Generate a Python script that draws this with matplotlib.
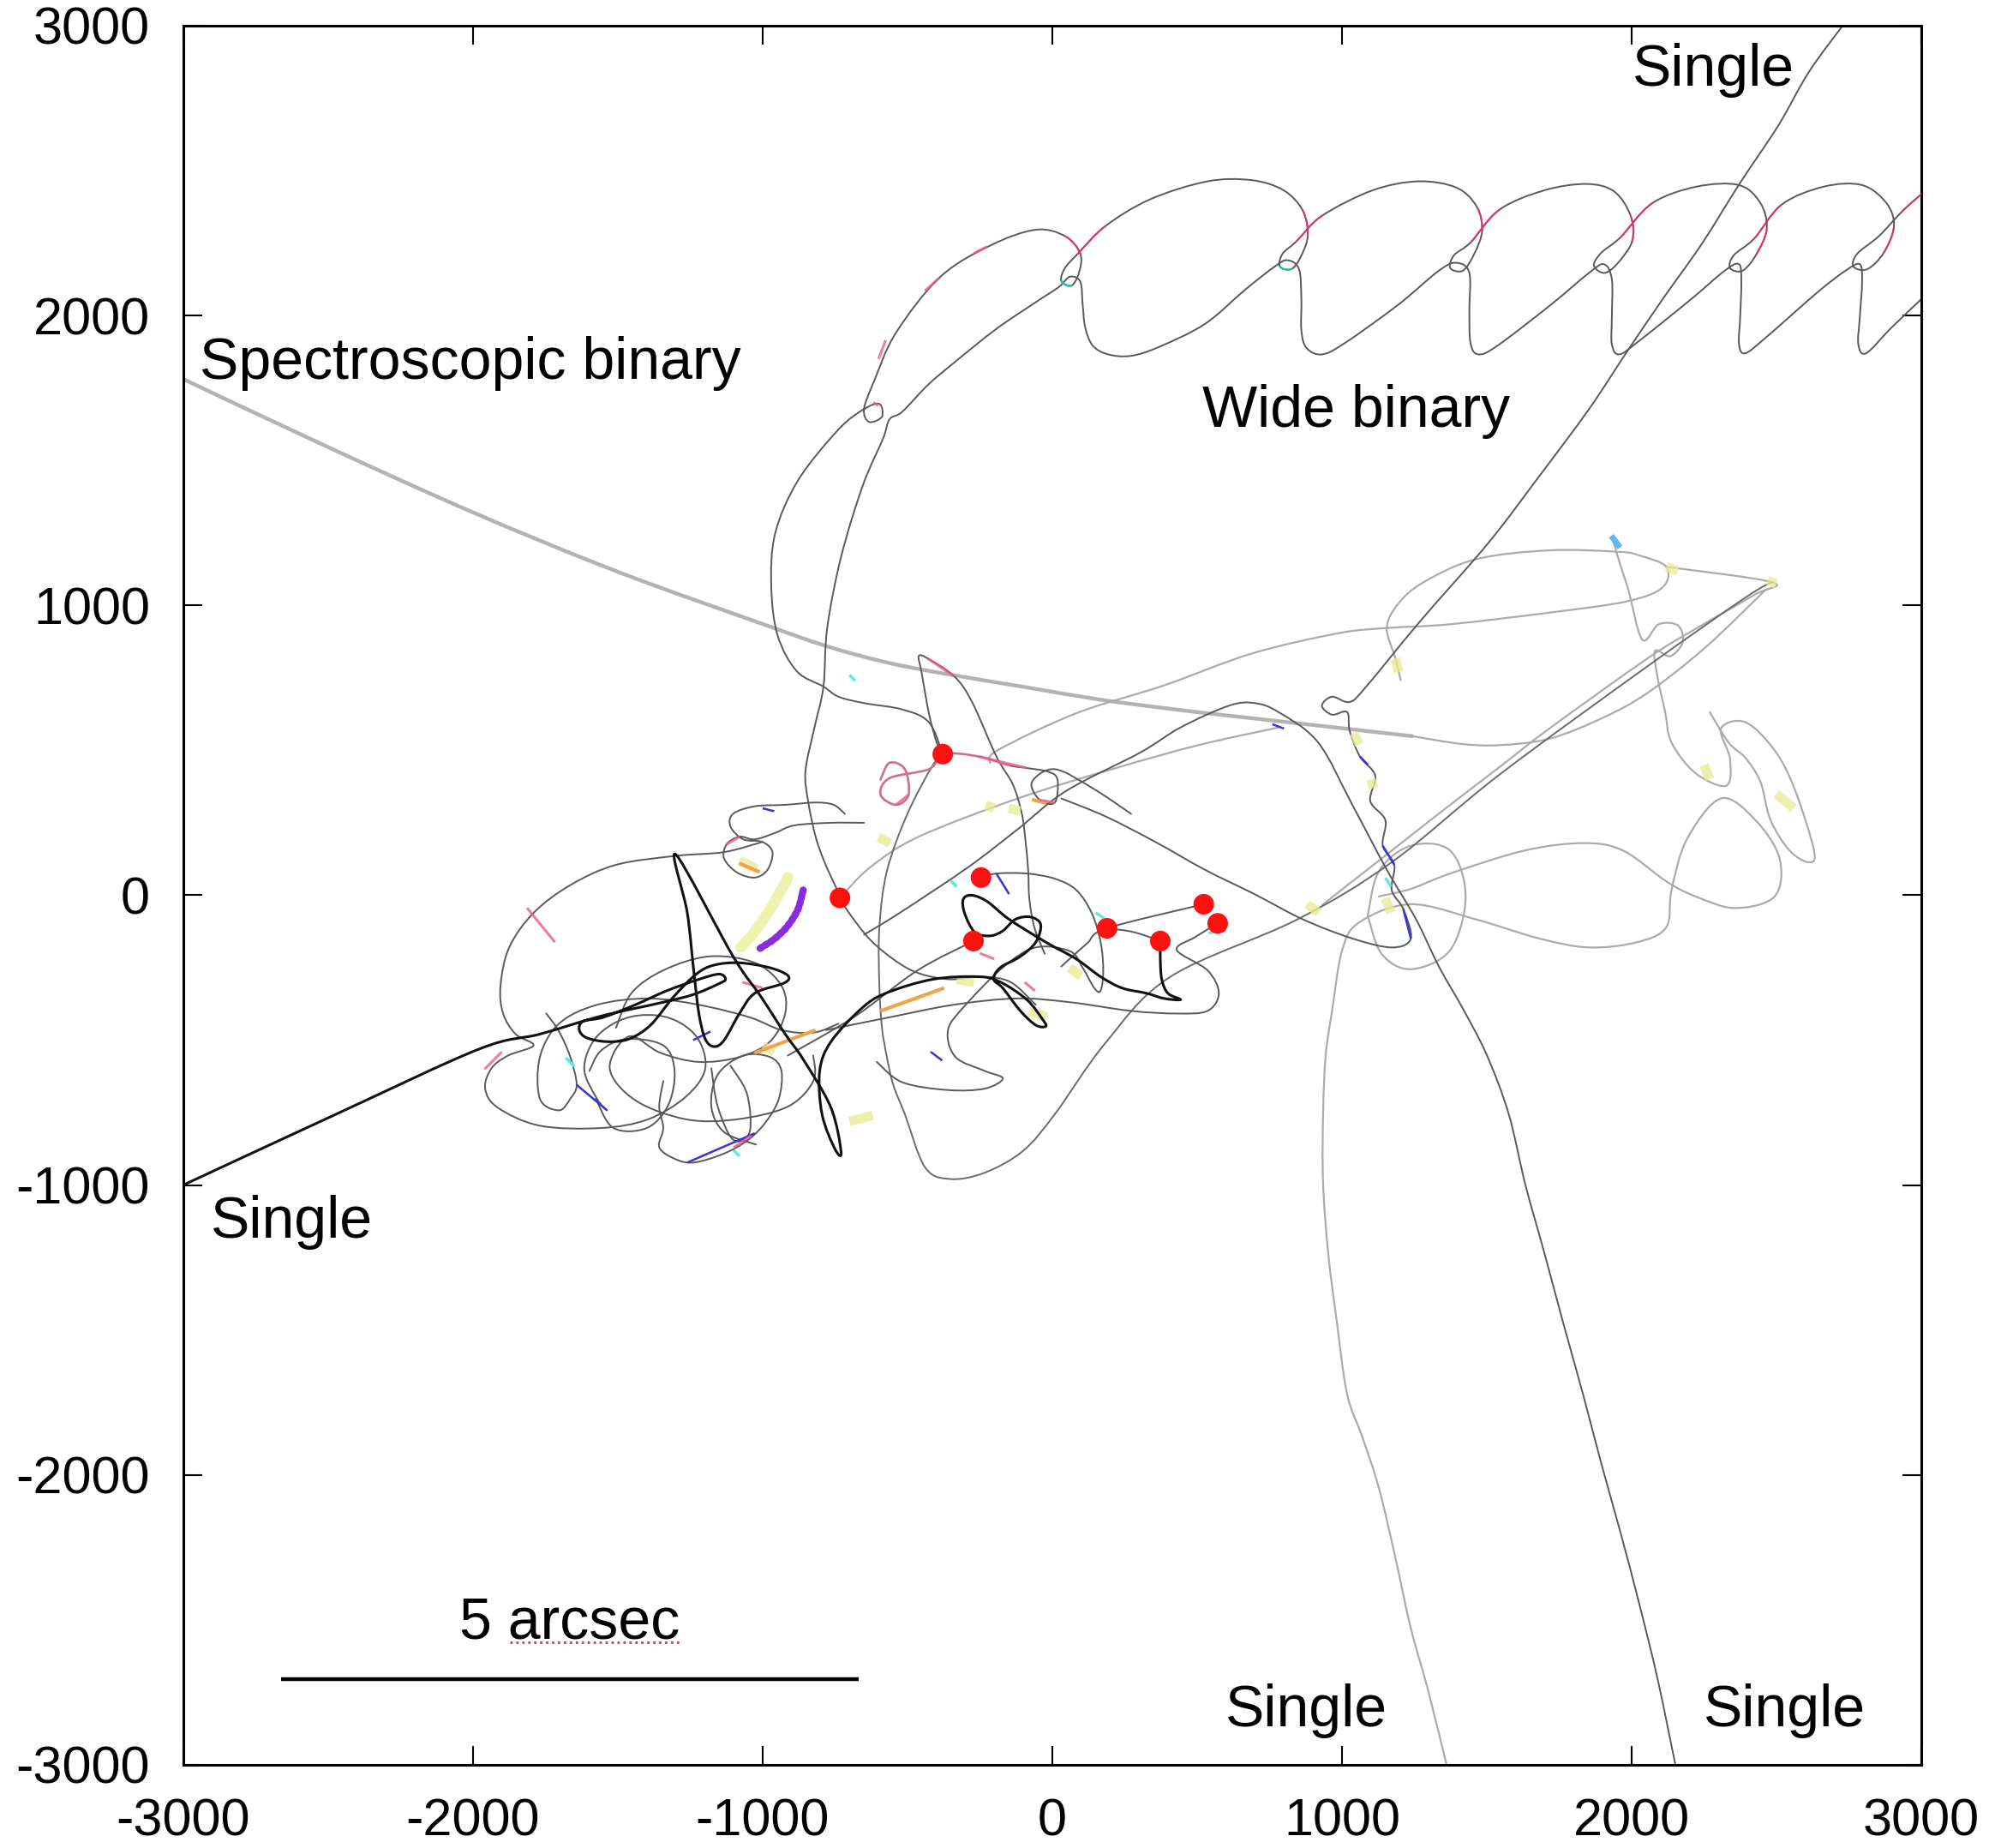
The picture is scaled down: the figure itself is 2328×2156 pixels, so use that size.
import numpy as np
import matplotlib
matplotlib.use('Agg')
import matplotlib.pyplot as plt
from matplotlib.path import Path
from matplotlib.patches import PathPatch

plt.rcParams['font.family'] = ['Liberation Sans', 'DejaVu Sans']
plt.rcParams['axes.unicode_minus'] = False

# ---------------- data (au) ----------------
xticks = [-3000, -2000, -1000, 0, 1000, 2000, 3000]
yticks = [-3000, -2000, -1000, 0, 1000, 2000, 3000]

red_x = [-378, -733, -246, -272, 189, 373, 523, 571]
red_y = [487, -9, 61, -158, -114, -158, -31, -97]

wide_a = [(-378,487),(-426,597),(-518,641),(-650,663),(-738,685),(-790,720),(-882,773),(-948,896),
          (-970,1062),(-957,1247),(-878,1431),(-738,1607),(-650,1677),(-597,1695),(-588,1651),(-632,1633),
          (-650,1677),(-615,1774),(-540,1940),(-386,2134),(-211,2243),(-57,2296),(44,2274),(97,2213),
          (92,2147),(66,2103),(31,2120),(44,2164),(88,2213),(184,2309),(338,2401),(536,2463),(689,2467),
          (799,2432),(865,2362),(882,2274),(856,2199),(825,2160),(786,2169),(795,2213),(843,2256),(931,2344),
          (1106,2432),(1264,2463),(1396,2441),(1466,2375),(1484,2292),(1457,2213),(1418,2155),(1374,2164),
          (1387,2208),(1444,2252),(1545,2366),(1699,2432),(1844,2454),(1940,2428),(1997,2344),(2002,2256),
          (1949,2177),(1905,2147),(1870,2173),(1896,2217),(1962,2270),(2072,2388),(2226,2445),(2371,2450),
          (2445,2388),(2467,2300),(2432,2213),(2384,2155),(2340,2164),(2353,2208),(2423,2265),(2520,2384),
          (2665,2445),(2796,2450),(2880,2388),(2906,2309),(2871,2217),(2814,2160),(2766,2169),(2779,2213),
          (2854,2274),(2937,2362),(3016,2432)]
wide_a_red = [(22,23),(28,29),(34,35),(40,41),(45,46),(51,52),(56,57),(62,63),(67,68),(72,73),(77,78),(83,84)]
wide_a_cyan = [(25,26),(37,38)]

wide_b_low = [(2485,1080),(2393,1027),(2055,790),(1545,417),(1172,114),(847,-83),(408,-281),(184,-509),
              (9,-755),(-101,-882),(-233,-957),(-351,-979),(-439,-939),(-509,-755),(-549,-654),(-571,-558),
              (-588,-457),(-597,-312),(-597,-114),(-571,83),(-500,281),(-413,448),(-378,487)]
wide_b = [(-729,-9),(-746,26),(-786,114),(-817,202),(-843,325),(-852,430),(-821,579),(-790,720),
          (-777,922),(-729,1168),(-654,1414),(-584,1576),(-562,1642),
          (-518,1668),(-430,1760),(-342,1835),(-193,1954),(-57,2046),(22,2098),(61,2134),(97,2116),(105,2037),
          (114,1958),(140,1896),(193,1866),(272,1861),(369,1892),(527,1971),(667,2090),(768,2169),(812,2191),
          (852,2160),(860,2059),(860,1949),(878,1888),(931,1866),(1010,1905),(1194,2037),(1335,2155),
          (1396,2182),(1440,2147),(1440,2015),(1444,1905),(1471,1866),(1537,1896),(1721,2037),(1853,2147),
          (1905,2177),(1932,2125),(1932,1993),(1932,1901),(1958,1866),(2028,1914),(2204,2055),(2322,2155),
          (2371,2177),(2379,2116),(2375,1993),(2371,1901),(2393,1870),(2467,1927),(2643,2081),(2739,2155),
          (2788,2177),(2796,2116),(2788,1993),(2783,1901),(2810,1870),(2897,1958),(3003,2059)]

single_ne = [(2731,3003),(2612,2840),(2507,2656),(2375,2458),(2243,2248),(2112,2063),(1984,1875),(1853,1677),
             (1677,1440),(1506,1216),(1269,944),(1084,720),(1027,667),(966,685),(931,654),(966,623),
             (1018,632),(1027,566),(1062,479),(1115,413),(1098,325),(1150,259),(1141,171),(1181,105),(1172,18),
             (1212,-48),(1238,-149),(1172,-180),(1036,-149),(865,-83),(698,4),(527,88),(356,184),(184,272),(31,334)]

single_se = [(2151,-2998),(2090,-2704),(2028,-2450),(1962,-2199),(1896,-1962),(1831,-1716),(1765,-1479),
             (1699,-1234),(1633,-997),(1576,-755),(1501,-553),(1422,-399),(1335,-246),(1256,-83),(1155,88),
             (1036,312),(918,527),(781,632),(698,663),(610,654),(443,579),(303,492),(48,360),(-119,228),
             (-290,97),(-527,-61),(-650,-136)]

single_s = [(1361,-2998),(1299,-2748),(1238,-2529),(1185,-2287),(1128,-2046),(1071,-1870),(1018,-1721),
            (983,-1475),(953,-1238),(935,-992),(935,-755),(944,-553),(966,-399),(1001,-189),(1062,-92),
            (1238,-31),(1462,-83),(1681,-149),(1853,-180),(2019,-162),(2120,-110),(2138,18),(2191,193),
            (2309,334),(2428,259),(2511,127),(2494,-4),(2357,-44),(2221,-4),(2120,48),(1971,154),(1835,180),
            (1629,154),(1374,75),(1238,22),(1128,-4)]

single_w = [(373,-158),(373,-220),(378,-290),(399,-338),(443,-360),(386,-356),(325,-338),(241,-320),
            (167,-281),(83,-220),(-22,-162),(-149,-83),(-224,-22),(-277,0),(-307,-13),(-303,-61),(-268,-127),
            (-215,-140),(-171,-123),(-127,-83),(-75,-75),(-40,-101),(-57,-162),(-110,-211),(-180,-250),
            (-202,-290),(-171,-320),(-110,-399),(-57,-448),(-22,-452),(-35,-426),(-88,-360),(-180,-299),
            (-255,-281),(-413,-290),(-575,-338),(-659,-391),(-764,-505),(-803,-606),(-795,-755),(-751,-874),
            (-729,-887),(-764,-733),(-860,-566),(-922,-479),(-1005,-351),(-1102,-211),(-1299,140),(-1260,-61),
            (-1238,-259),(-1220,-408),(-1198,-496),(-1168,-522),(-1133,-500),(-1080,-408),(-1027,-338),
            (-926,-303),(-913,-277),(-975,-250),(-1080,-233),(-1168,-241),(-1229,-272),(-1308,-351),
            (-1387,-448),(-1462,-496),(-1537,-505),(-1607,-492),(-1633,-465),(-1620,-435),(-1550,-421),
            (-1440,-378),(-1330,-329),(-1220,-290),(-1150,-272),(-1128,-290),(-1155,-307),(-1238,-342),
            (-1343,-369),(-1558,-417),(-1769,-479),(-1980,-531),(-2472,-755),(-3003,-1001)]

spec_binary = [(-3003,1782),(-2500,1546),(-2000,1321),(-1500,1116),(-1000,936),(-781,860),(-575,804),
               (-369,764),(-105,720),(158,676),(368,648),(579,623),(931,584),(1242,549)]
spec_tail = [(1242,549),(1414,522),(1545,518),(1716,540),(1896,610),(2055,698),(2256,856),(2463,1054)]

lens = [(-215,457),(-189,500),(83,628),(386,724),(689,834),(988,904),(1155,922),(1374,935),(1716,975),
        (1984,1014),(2107,1062),(2120,1133),(2028,1172),(1954,1185),(1716,1190),(1462,1159),(1282,1080),
        (1194,1005),(1155,922),(1185,817),(1203,742)]
apex_arm = [(2120,1133),(2485,1080),(2423,1036),(2226,922),(2055,817),(1716,575),(1545,443),(1339,285),
            (1172,154),(1036,48),(931,-35)]
right_loops = [(1936,1225),(1962,1137),(1989,1054),(2037,882),(2094,935),(2160,931),(2177,874),(2134,825),
               (2081,843),(2090,751),(2116,632),(2138,527),(2221,421),(2327,378),(2340,470),(2309,575),
               (2393,597),(2494,500),(2564,364),(2630,154),(2612,114),(2546,154),(2480,259),(2445,391),
               (2393,474),(2335,527),(2270,632)]
red_dot_arm = [(-733,-9),(-628,97),(-461,202),(-119,334),(220,439),(505,518),(781,579)]
circle_e = [(1089,-70),(1137,-202),(1238,-255),(1374,-189),(1427,-4),(1374,154),(1238,171),(1128,83),(1089,-70)]

tangle = {
    'k1': [(-1001,184),(-1133,149),(-1299,136),(-1506,105),(-1664,35),(-1791,-61),(-1875,-180),(-1905,-312),
           (-1896,-408),(-1853,-479),(-1791,-518),(-1879,-553),(-1936,-597),(-1958,-667),(-1914,-733),
           (-1769,-795),(-1558,-803),(-1396,-773),(-1264,-694),(-1198,-597),(-1229,-487),(-1330,-421),
           (-1462,-421),(-1572,-487),(-1616,-597),(-1572,-702),(-1537,-742)],
    'k2': [(-1747,-408),(-1703,-470),(-1664,-558),(-1642,-654),(-1664,-702),(-1703,-742),(-1769,-702),
           (-1769,-558),(-1703,-443),(-1572,-378),(-1396,-356),(-1220,-378),(-1045,-421),(-935,-465),
           (-825,-474),(-738,-443)],
    'k3': [(-1506,-457),(-1453,-338),(-1343,-259),(-1185,-211),(-1027,-233),(-935,-312),(-922,-408),
           (-975,-505),(-1080,-558),(-1220,-575),(-1352,-544),(-1462,-487),(-1528,-597),(-1440,-707),
           (-1264,-773),(-1089,-773),(-913,-729),(-825,-641),(-825,-553)],
    'k4': [(-1343,-641),(-1357,-729),(-1343,-803),(-1357,-869),(-1304,-909),(-1238,-922),(-1133,-891),
           (-1049,-843),(-988,-781),(-944,-702),(-935,-606),(-975,-558),(-1067,-553),(-1155,-619),
           (-1177,-729),(-1133,-817),(-1023,-860)],
    'k5': [(-246,61),(-193,75),(-88,75),(9,57),(83,18),(136,-61),(167,-162),(176,-259),(167,-329),
           (145,-320),(105,-250),(61,-193),(-57,-180),(-167,-246),(-299,-378),(-360,-465),(-334,-558),
           (-233,-606),(-171,-632),(-233,-667),(-360,-672),(-518,-645),(-606,-575)],
    'k6': [(571,-97),(492,-145),(430,-189),(536,-259),(575,-338),(536,-399),(430,-408),(272,-399),
           (61,-369),(-123,-356),(-342,-378),(-562,-421),(-781,-465)],
    'k7': [(522,-31),(189,-114),(119,-167),(31,-246)],
    'k8': [(189,-114),(281,-127),(373,-158)],
    'k9': [(-913,-553),(-680,-417),(-465,-259),(-272,-158)],
    'k10': [(-593,399),(-562,457),(-509,435),(-496,347),(-540,312),(-593,347),(-562,404),(-426,435),
            (-373,487),(-255,479),(-149,448),(-88,439),(-13,426),(18,399),(9,320),(-44,329),(-70,391),
            (9,435),(140,369),(272,281)],
    'k11': [(-378,487),(-399,527),(-426,628),(-452,773),(-461,825),(-430,817),(-338,755),(-277,667),
            (-193,479),(-136,382),(-105,281),(-92,184),(-83,83),(-79,-13),(-61,-114),(-26,-202)],
    'k12': [(-650,250),(-764,250),(-891,241),(-957,215),(-1027,193),(-1080,202),(-1124,176),(-1133,127),
            (-1089,79),(-1027,61),(-983,88),(-966,149),(-1001,184),(-1067,193),(-1111,237),(-1102,281),
            (-1027,307),(-922,312),(-817,320),(-755,312),(-716,281)],
    'k13': [(-729,-9),(-707,-53),(-628,-154),(-531,-233),(-452,-272),(-351,-290),(-246,-281),(-145,-299),
            (-57,-378)],
    'k14': [(-1576,-702),(-1515,-803),(-1400,-803),(-1326,-724),(-1304,-606),(-1343,-518),(-1471,-496),
            (-1558,-536),(-1598,-606)],
    'k15': [(-1177,-597),(-1155,-729),(-1102,-843),(-1045,-817),(-1054,-685),(-1111,-588)],
}

# coloured (time-coded) bits
purple_hatch = [(-860,18),(-878,-48),(-913,-105),(-957,-149),(-1010,-184)]
yellow_band = [(-913,61),(-948,-4),(-988,-70),(-1036,-136),(-1076,-180)]
orange_bits = [[(-1027,-544),(-817,-465)], [(-593,-399),(-373,-320)], [(-1080,110),(-1010,80)],
               [(-70,330),(-20,318)]]
blue_bits = [[(-1260,-922),(-1027,-821)], [(-1642,-654),(-1537,-742)], [(-193,75),(-149,4)],
             [(1141,171),(1181,105)], [(1212,-48),(1238,-149)], [(-1240,-500),(-1180,-470)],
             [(-420,-540),(-380,-570)], [(1062,479),(1090,450)], [(-1000,300),(-960,290)],
             [(760,590),(800,575)]]
pink_bits = [[(-1813,-44),(-1717,-162)], [(-1900,-540),(-1960,-600)], [(-1100,-870),(-1040,-830)],
             [(-540,312),(-496,347)], [(-255,479),(-88,439)], [(-44,329),(9,320)], [(-1080,202),(-1124,176)],
             [(-1070,-300),(-1000,-320)], [(-250,-200),(-200,-220)], [(-430,817),(-338,755)],
             [(-600,1850),(-575,1915)], [(-440,2085),(-390,2130)], [(-270,2215),(-225,2238)],
             [(-618,1700),(-600,1690)], [(-95,-300),(-60,-330)]]
cyan_bits = [[(-700,760),(-680,740)], [(150,-60),(180,-80)], [(1150,60),(1170,30)], [(-1680,-560),(-1650,-590)],
             [(-1100,-880),(-1080,-900)], [(540,-130),(600,-120)], [(-350,50),(-330,30)]]
yellow_bits = [[(-1080,120),(-1020,90)], [(-150,300),(-110,290)], [(1185,817),(1195,770)],
               [(2120,1133),(2160,1120)], [(2470,1085),(2500,1075)], [(1100,400),(1110,370)],
               [(1150,-10),(1170,-60)], [(-700,-780),(-620,-760)], [(-1000,-520),(-960,-540)],
               [(-80,-400),(-20,-420)], [(880,-30),(920,-60)], [(2250,450),(2270,400)], [(2500,350),(2560,300)],
               [(-600,200),(-560,180)], [(60,-250),(100,-280)], [(1040,560),(1060,520)],
               [(-230,310),(-200,300)], [(-330,-290),(-270,-300)]]
lightblue_bits = [[(1930,1240),(1960,1200)]]

# ---------------- drawing helpers ----------------
def bez(pts, i0=0, i1=None):
    P = np.asarray(pts, float)
    n = len(P)
    if i1 is None:
        i1 = n - 1
    verts = [P[i0]]
    codes = [Path.MOVETO]
    for i in range(i0, i1):
        p0 = P[max(i - 1, 0)]; p1 = P[i]; p2 = P[i + 1]; p3 = P[min(i + 2, n - 1)]
        verts += [p1 + (p2 - p0) / 6.0, p2 - (p3 - p1) / 6.0, p2]
        codes += [Path.CURVE4] * 3
    return Path(verts, codes)

fig = plt.figure(figsize=(23.28, 21.56), dpi=100)
ax = fig.add_axes([0.0919, 0.045, 0.8711, 0.9411])

def curve(pts, color, lw, z=2, i0=0, i1=None, alpha=1.0, ls='-'):
    ax.add_patch(PathPatch(bez(pts, i0, i1), fill=False, edgecolor=color, lw=lw, zorder=z,
                           capstyle='round', joinstyle='round', alpha=alpha, linestyle=ls))

def seg(pts, color, lw, z=3, alpha=1.0):
    xs = [p[0] for p in pts]; ys = [p[1] for p in pts]
    ax.plot(xs, ys, color=color, lw=lw, zorder=z, alpha=alpha, solid_capstyle='butt')

DARK = '#595959'
LIGHT = '#ababab'
RED = '#e8306a'

# light grey trajectories
curve(spec_binary, '#b3b3b3', 3.2, z=1)
curve(spec_tail, LIGHT, 1.6, z=1)
curve(lens, LIGHT, 1.6, z=1)
curve(apex_arm, LIGHT, 1.6, z=1)
curve(right_loops, LIGHT, 1.6, z=1)
curve(red_dot_arm, LIGHT, 1.6, z=1)
curve(circle_e, LIGHT, 1.6, z=1)
curve(single_s, LIGHT, 1.6, z=1)

# dark grey trajectories
curve(wide_b_low, '#6a6a6a', 1.4)
curve(wide_b, DARK, 1.4)
curve(wide_a, DARK, 1.4)
curve(single_ne, DARK, 1.4)
curve(single_se, DARK, 1.4)
for k, pts in tangle.items():
    curve(pts, DARK, 1.4)

# red/cyan parts of the wide binary
for i0, i1 in wide_a_red:
    curve(wide_a, RED, 1.4, z=3, i0=i0, i1=i1, alpha=0.9)
for i0, i1 in wide_a_cyan:
    curve(wide_a, '#20c0b0', 1.6, z=3, i0=i0, i1=i1)
curve(tangle['k10'], '#f07aa0', 2.2, z=3, i0=0, i1=10, alpha=0.7)

# black single
curve(single_w, '#111111', 2.2, z=4)

# coloured bits
curve(yellow_band, '#ecef9a', 9, z=2, alpha=0.8)
curve(purple_hatch, '#8a2be2', 6, z=3, ls=(0, (0.35, 0.5)))
for s in orange_bits:
    seg(s, '#f2a24a', 3)
for s in blue_bits:
    seg(s, '#3535d0', 1.8)
for s in pink_bits:
    seg(s, '#ec5a8c', 2.2, alpha=0.8)
for s in cyan_bits:
    seg(s, '#5fe6e6', 2.5)
for s in yellow_bits:
    seg(s, '#e8ec90', 8, z=2, alpha=0.75)
for s in lightblue_bits:
    seg(s, '#60b8f0', 5)

# red dots
ax.scatter(red_x, red_y, s=300, color='#ff1010', zorder=6, edgecolors='none')

# scale bar and labels
ax.plot([-2662, -668], [-2704, -2704], color='black', lw=3.2, zorder=5, solid_capstyle='butt')
ax.plot([-1874, -1286], [-2577, -2577], color='#e03060', lw=2, ls=(0, (1, 1.5)), zorder=5)
fs = 49
ax.text(-2047, -2564, '5 arcsec', fontsize=fs, va='baseline', ha='left', zorder=7)
ax.text(2003, 2792, 'Single', fontsize=fs, va='baseline', ha='left', zorder=7)
ax.text(-2943, 1782, 'Spectroscopic binary', fontsize=fs, va='baseline', ha='left', zorder=7)
ax.text(518, 1616, 'Wide binary', fontsize=fs, va='baseline', ha='left', zorder=7)
ax.text(-2906, -1181, 'Single', fontsize=fs, va='baseline', ha='left', zorder=7)
ax.text(597, -2867, 'Single', fontsize=fs, va='baseline', ha='left', zorder=7)
ax.text(2248, -2867, 'Single', fontsize=fs, va='baseline', ha='left', zorder=7)

ax.set_xlim(-3000, 3000)
ax.set_ylim(-3000, 3000)
ax.set_xticks(xticks)
ax.set_yticks(yticks)
ax.set_xticklabels([str(v) for v in xticks])
ax.set_yticklabels([str(v) for v in yticks])
ax.tick_params(direction='in', length=16, width=1.5, top=True, right=True, labelsize=44, pad=28)
for sp in ax.spines.values():
    sp.set_linewidth(2.2)

fig.savefig('out.png', dpi=100)
